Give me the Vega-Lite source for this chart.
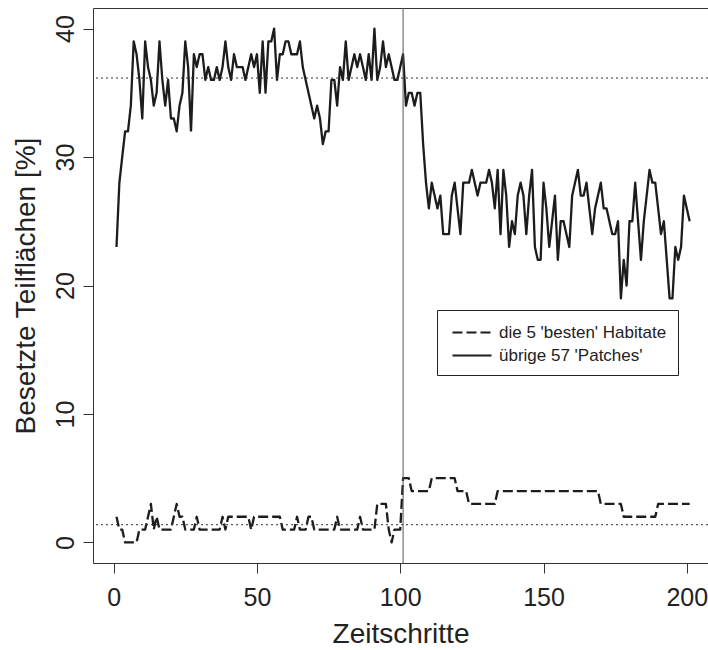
{
"$schema": "https://vega.github.io/schema/vega-lite/v6.json",
"autosize": "none",
"width": 615,
"height": 555,
"padding": {"left": 93, "top": 8, "right": 0, "bottom": 87},
"background": "white",
"config": {
  "view": {"stroke": null},
  "font": "Liberation Sans",
  "axis": {"domainColor": "#333", "tickColor": "#333", "labelColor": "#222", "titleColor": "#222", "grid": false, "titleFontWeight": "normal", "domainWidth": 1, "tickWidth": 1}
},
"datasets": {
  "occ": [
{"t":1,"best":2,"rest":23},{"t":2,"best":1,"rest":28},{"t":3,"best":1,"rest":30},{"t":4,"best":0,"rest":32},{"t":5,"best":0,"rest":32},
{"t":6,"best":0,"rest":34},{"t":7,"best":0,"rest":39},{"t":8,"best":0,"rest":38},{"t":9,"best":1,"rest":36},{"t":10,"best":1,"rest":33},
{"t":11,"best":1,"rest":39},{"t":12,"best":2,"rest":37},{"t":13,"best":3,"rest":36},{"t":14,"best":1,"rest":34},{"t":15,"best":2,"rest":35},
{"t":16,"best":1,"rest":39},{"t":17,"best":1,"rest":36},{"t":18,"best":1,"rest":34},{"t":19,"best":1,"rest":36},{"t":20,"best":1,"rest":33},
{"t":21,"best":2,"rest":33},{"t":22,"best":3,"rest":32},{"t":23,"best":2,"rest":34},{"t":24,"best":2,"rest":35},{"t":25,"best":1,"rest":39},
{"t":26,"best":1,"rest":37},{"t":27,"best":1,"rest":32},{"t":28,"best":1,"rest":38},{"t":29,"best":2,"rest":37},{"t":30,"best":1,"rest":38},
{"t":31,"best":1,"rest":38},{"t":32,"best":1,"rest":36},{"t":33,"best":1,"rest":37},{"t":34,"best":1,"rest":36},{"t":35,"best":1,"rest":36},
{"t":36,"best":1,"rest":37},{"t":37,"best":1,"rest":36},{"t":38,"best":2,"rest":37},{"t":39,"best":1,"rest":39},{"t":40,"best":2,"rest":37},
{"t":41,"best":2,"rest":36},{"t":42,"best":2,"rest":38},{"t":43,"best":2,"rest":37},{"t":44,"best":2,"rest":37},{"t":45,"best":2,"rest":37},
{"t":46,"best":2,"rest":36},{"t":47,"best":2,"rest":37},{"t":48,"best":1,"rest":38},{"t":49,"best":2,"rest":37},{"t":50,"best":2,"rest":38},
{"t":51,"best":2,"rest":35},{"t":52,"best":2,"rest":39},{"t":53,"best":2,"rest":35},{"t":54,"best":2,"rest":39},{"t":55,"best":2,"rest":39},
{"t":56,"best":2,"rest":40},{"t":57,"best":2,"rest":36},{"t":58,"best":2,"rest":38},{"t":59,"best":1,"rest":38},{"t":60,"best":1,"rest":39},
{"t":61,"best":1,"rest":39},{"t":62,"best":1,"rest":38},{"t":63,"best":1,"rest":38},{"t":64,"best":2,"rest":38},{"t":65,"best":1,"rest":39},
{"t":66,"best":1,"rest":37},{"t":67,"best":1,"rest":36},{"t":68,"best":2,"rest":35},{"t":69,"best":2,"rest":34},{"t":70,"best":1,"rest":33},
{"t":71,"best":1,"rest":34},{"t":72,"best":1,"rest":33},{"t":73,"best":1,"rest":31},{"t":74,"best":1,"rest":32},{"t":75,"best":1,"rest":32},
{"t":76,"best":1,"rest":36},{"t":77,"best":1,"rest":36},{"t":78,"best":2,"rest":34},{"t":79,"best":1,"rest":37},{"t":80,"best":1,"rest":36},
{"t":81,"best":1,"rest":39},{"t":82,"best":1,"rest":36},{"t":83,"best":1,"rest":37},{"t":84,"best":1,"rest":38},{"t":85,"best":1,"rest":37},
{"t":86,"best":2,"rest":38},{"t":87,"best":1,"rest":37},{"t":88,"best":1,"rest":36},{"t":89,"best":1,"rest":38},{"t":90,"best":1,"rest":36},
{"t":91,"best":1,"rest":40},{"t":92,"best":3,"rest":36},{"t":93,"best":3,"rest":37},{"t":94,"best":3,"rest":39},{"t":95,"best":3,"rest":37},
{"t":96,"best":1,"rest":38},{"t":97,"best":0,"rest":37},{"t":98,"best":1,"rest":36},{"t":99,"best":1,"rest":36},{"t":100,"best":1,"rest":37},
{"t":101,"best":5,"rest":38},{"t":102,"best":5,"rest":34},{"t":103,"best":5,"rest":35},{"t":104,"best":4,"rest":35},{"t":105,"best":4,"rest":34},
{"t":106,"best":4,"rest":35},{"t":107,"best":4,"rest":35},{"t":108,"best":4,"rest":31},{"t":109,"best":4,"rest":28},{"t":110,"best":4,"rest":26},
{"t":111,"best":5,"rest":28},{"t":112,"best":5,"rest":27},{"t":113,"best":5,"rest":26},{"t":114,"best":5,"rest":27},{"t":115,"best":5,"rest":24},
{"t":116,"best":5,"rest":24},{"t":117,"best":5,"rest":24},{"t":118,"best":5,"rest":27},{"t":119,"best":5,"rest":28},{"t":120,"best":4,"rest":26},
{"t":121,"best":4,"rest":24},{"t":122,"best":4,"rest":28},{"t":123,"best":4,"rest":28},{"t":124,"best":3,"rest":28},{"t":125,"best":3,"rest":29},
{"t":126,"best":3,"rest":28},{"t":127,"best":3,"rest":27},{"t":128,"best":3,"rest":28},{"t":129,"best":3,"rest":28},{"t":130,"best":3,"rest":28},
{"t":131,"best":3,"rest":29},{"t":132,"best":3,"rest":28},{"t":133,"best":3,"rest":26},{"t":134,"best":4,"rest":29},{"t":135,"best":4,"rest":24},
{"t":136,"best":4,"rest":29},{"t":137,"best":4,"rest":27},{"t":138,"best":4,"rest":23},{"t":139,"best":4,"rest":25},{"t":140,"best":4,"rest":24},
{"t":141,"best":4,"rest":27},{"t":142,"best":4,"rest":28},{"t":143,"best":4,"rest":27},{"t":144,"best":4,"rest":24},{"t":145,"best":4,"rest":27},
{"t":146,"best":4,"rest":29},{"t":147,"best":4,"rest":23},{"t":148,"best":4,"rest":22},{"t":149,"best":4,"rest":22},{"t":150,"best":4,"rest":28},
{"t":151,"best":4,"rest":26},{"t":152,"best":4,"rest":23},{"t":153,"best":4,"rest":25},{"t":154,"best":4,"rest":27},{"t":155,"best":4,"rest":22},
{"t":156,"best":4,"rest":25},{"t":157,"best":4,"rest":25},{"t":158,"best":4,"rest":24},{"t":159,"best":4,"rest":23},{"t":160,"best":4,"rest":27},
{"t":161,"best":4,"rest":28},{"t":162,"best":4,"rest":29},{"t":163,"best":4,"rest":27},{"t":164,"best":4,"rest":27},{"t":165,"best":4,"rest":28},
{"t":166,"best":4,"rest":26},{"t":167,"best":4,"rest":24},{"t":168,"best":4,"rest":26},{"t":169,"best":4,"rest":27},{"t":170,"best":3,"rest":28},
{"t":171,"best":3,"rest":26},{"t":172,"best":3,"rest":26},{"t":173,"best":3,"rest":25},{"t":174,"best":3,"rest":24},{"t":175,"best":3,"rest":24},
{"t":176,"best":3,"rest":25},{"t":177,"best":3,"rest":19},{"t":178,"best":2,"rest":22},{"t":179,"best":2,"rest":20},{"t":180,"best":2,"rest":25},
{"t":181,"best":2,"rest":25},{"t":182,"best":2,"rest":28},{"t":183,"best":2,"rest":25},{"t":184,"best":2,"rest":22},{"t":185,"best":2,"rest":25},
{"t":186,"best":2,"rest":27},{"t":187,"best":2,"rest":29},{"t":188,"best":2,"rest":28},{"t":189,"best":2,"rest":28},{"t":190,"best":3,"rest":26},
{"t":191,"best":3,"rest":24},{"t":192,"best":3,"rest":25},{"t":193,"best":3,"rest":22},{"t":194,"best":3,"rest":19},{"t":195,"best":3,"rest":19},
{"t":196,"best":3,"rest":23},{"t":197,"best":3,"rest":22},{"t":198,"best":3,"rest":23},{"t":199,"best":3,"rest":27},{"t":200,"best":3,"rest":26},
{"t":201,"best":3,"rest":25}
  ]
},
"layer": [
  {
    "data": {"name": "occ"},
    "transform": [{"fold": ["best", "rest"], "as": ["s", "v"]}],
    "mark": {"type": "line", "strokeWidth": 2.3, "color": "#1c1c1c", "strokeJoin": "round"},
    "encoding": {
      "x": {"field": "t", "type": "quantitative",
        "scale": {"domain": [-7.2, 207.4], "nice": false, "zero": false},
        "axis": {"orient": "bottom", "values": [0, 50, 100, 150, 200], "tickSize": 10, "labelFontSize": 25, "labelPadding": 12, "labelFlush": false, "labelOverlap": false, "title": "Zeitschritte", "titleFontSize": 28, "titlePadding": 10}},
      "y": {"field": "v", "type": "quantitative",
        "scale": {"domain": [-1.6, 41.6], "nice": false, "zero": false},
        "axis": {"orient": "left", "values": [0, 10, 20, 30, 40], "tickSize": 10, "labelFontSize": 25, "labelAngle": -90, "labelPadding": 5, "labelFlush": false, "labelOverlap": false, "title": "Besetzte Teilflächen [%]", "titleFontSize": 28, "titlePadding": 13}},
      "strokeDash": {"field": "s", "type": "nominal",
        "scale": {"domain": ["best", "rest"], "range": [[10, 4], [1, 0]]},
        "legend": {"orient": "none", "legendX": 344, "legendY": 302, "title": null,
          "labelExpr": "datum.value == 'best' ? \"die 5 'besten' Habitate\" : \"übrige 57 'Patches'\"",
          "labelFontSize": 17, "labelColor": "#222", "labelOffset": 28, "labelLimit": 400, "rowPadding": 3,
          "symbolType": "M-0.7,0H3.2", "symbolSize": 400, "symbolStrokeWidth": 2.2, "symbolStrokeColor": "#1c1c1c",
          "strokeColor": "#222", "padding": 11, "cornerRadius": 0, "fillColor": "white"}}
    }
  },
  {
    "data": {"values": [{"h": 36.15}, {"h": 1.38}]},
    "mark": {"type": "rule", "strokeDash": [2, 3], "color": "#333", "strokeWidth": 1},
    "encoding": {
      "y": {"field": "h", "type": "quantitative", "scale": {"domain": [-1.6, 41.6], "nice": false, "zero": false},
        "axis": {"orient": "left", "values": [0, 10, 20, 30, 40], "tickSize": 10, "labelFontSize": 25, "labelAngle": -90, "labelPadding": 5, "labelFlush": false, "labelOverlap": false, "title": "Besetzte Teilflächen [%]", "titleFontSize": 28, "titlePadding": 13}}
    }
  },
  {
    "data": {"values": [{"vx": 101}]},
    "mark": {"type": "rule", "color": "#555", "strokeWidth": 1},
    "encoding": {
      "x": {"field": "vx", "type": "quantitative", "scale": {"domain": [-7.2, 207.4], "nice": false, "zero": false},
        "axis": {"orient": "top", "labels": false, "ticks": false, "title": null, "domain": true}}
    }
  }
],
"resolve": {"axis": {"x": "independent"}}
}
